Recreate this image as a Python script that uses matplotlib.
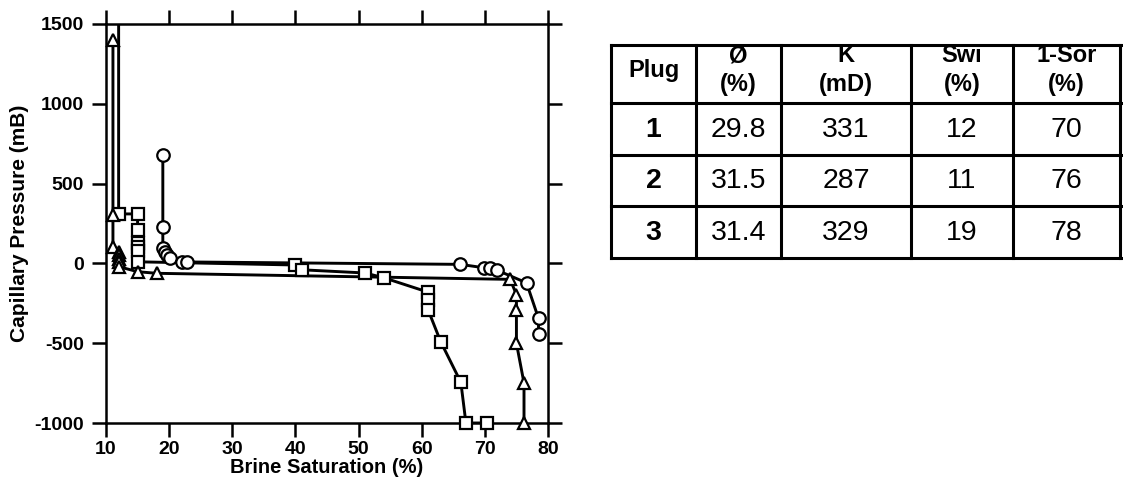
import numpy as np
import matplotlib
matplotlib.use("Agg")
import matplotlib.pyplot as plt

plt.rcParams['font.family'] = ['Liberation Sans', 'DejaVu Sans']
plt.rcParams['axes.unicode_minus'] = False

# Capillary pressure curves (brine saturation %, pressure mB)
sq_sat = [12, 12, 15, 15, 15, 15, 15, 15, 40, 41, 51, 54, 61, 61, 61, 63, 66.2, 67, 70.4]
sq_pc = [2000, 310, 310, 210, 130, 100, 75, 10, -10, -40, -60, -90, -180, -230, -290, -490, -745, -1000, -1000]

tri_sat = [11.1, 11.1, 11.1, 12, 12, 12, 12, 12, 15, 18, 74, 75, 75, 75, 76.2, 76.2]
tri_pc = [1400, 305, 105, 70, 50, 30, 10, -20, -52, -62, -100, -195, -295, -500, -750, -1000]

cir_sat = [19, 19, 19, 19.3, 19.7, 20.1, 22.1, 22.9, 66.1, 69.8, 70.8, 71.9, 76.6, 78.5, 78.5]
cir_pc = [680, 225, 94, 73, 52, 32, 11, 9, -6, -27, -30, -42, -122, -345, -440]

x_ticks = [10, 20, 30, 40, 50, 60, 70, 80]
y_ticks = [-1000, -500, 0, 500, 1000, 1500]

# Plug properties table
table_header = ['Plug', 'Ø\n(%)', 'K\n(mD)', 'Swi\n(%)', '1-Sor\n(%)']
plug_ids = ['1', '2', '3']
porosity = ['29.8', '31.5', '31.4']
permeability = ['331', '287', '329']
swi = ['12', '11', '19']
one_minus_sor = ['70', '76', '78']

W, H = 1123, 484
fig = plt.figure(figsize=(W / 100, H / 100), dpi=100)

# ---- capillary pressure plot ----
L, R, T, B = 106, 548, 24, 423
ax = fig.add_axes([L / W, (H - B) / H, (R - L) / W, (B - T) / H])
ax.set_xlim(10, 80)
ax.set_ylim(-1000, 1500)

lw = 2.1
mk = dict(markerfacecolor='white', markeredgecolor='black', markeredgewidth=1.6,
          linestyle='none', clip_on=False, zorder=4)
for xs, ys, m, ms in [(sq_sat, sq_pc, 's', 8), (tri_sat, tri_pc, '^', 8.5),
                      (cir_sat, cir_pc, 'o', 9)]:
    ax.plot(xs, ys, color='black', lw=lw, zorder=3)
    ax.plot(xs, np.ma.masked_greater(ys, 1500), marker=m, markersize=ms, **mk)

ax.set_xticks(x_ticks)
ax.set_yticks(y_ticks)
ax.tick_params(direction='out', length=10, width=1.8, top=True, right=True,
               labelsize=14, pad=3)
ax.tick_params(axis='y', pad=6)
for lab in ax.get_xticklabels() + ax.get_yticklabels():
    lab.set_fontweight('bold')
for s in ax.spines.values():
    s.set_linewidth(1.8)

ax.set_xlabel('Brine Saturation (%)', fontsize=14.5, fontweight='bold', labelpad=0)
ax.set_ylabel('Capillary Pressure (mB)', fontsize=15, fontweight='bold', labelpad=4)

# ---- table ----
tL, tR, tT, tB = 611, 1121, 45, 258
tax = fig.add_axes([tL / W, (H - tB) / H, (tR - tL) / W, (tB - tT) / H])
tw, th = tR - tL, tB - tT
tax.set_xlim(0, tw)
tax.set_ylim(th, 0)
tax.axis('off')

col_edges = [0, 85, 170, 300, 402, 509]
row_edges = [0, 58, 110, 161, 213]
for xe in col_edges:
    tax.plot([xe, xe], [0, th], color='black', lw=2.2, clip_on=False,
             solid_capstyle='projecting')
for ye in row_edges:
    tax.plot([0, tw], [ye, ye], color='black', lw=2.2, clip_on=False,
             solid_capstyle='projecting')

def cx(i):
    return (col_edges[i] + col_edges[i + 1]) / 2

def cy(j):
    return (row_edges[j] + row_edges[j + 1]) / 2

for i, h in enumerate(table_header):
    tax.text(cx(i), cy(0) - 4, h, ha='center', va='center', fontsize=17,
             fontweight='bold', linespacing=1.3)

columns = [plug_ids, porosity, permeability, swi, one_minus_sor]
for i, col in enumerate(columns):
    for j, v in enumerate(col):
        tax.text(cx(i), cy(j + 1) + 1, v, ha='center', va='center', fontsize=20.5,
                 fontweight='bold' if i == 0 else 'normal')

fig.savefig('out.png', dpi=100)
